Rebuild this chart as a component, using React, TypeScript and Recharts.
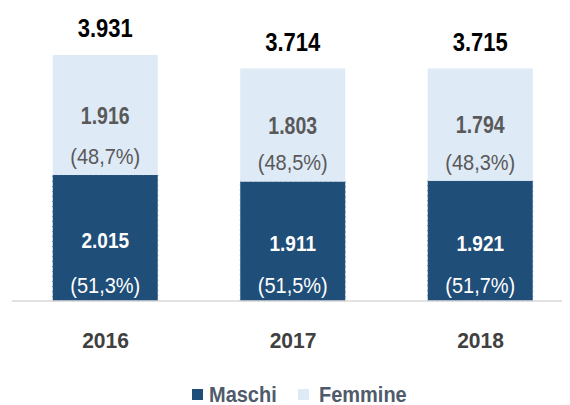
import React from 'react';
import { BarChart, Bar, XAxis, YAxis, LabelList } from 'recharts';

const years = ['2016', '2017', '2018'];
const maschi = [2015, 1911, 1921];
const femmine = [1916, 1803, 1794];
const totals = [3931, 3714, 3715];
const maschiPct = ['(51,3%)', '(51,5%)', '(51,7%)'];
const femminePct = ['(48,7%)', '(48,5%)', '(48,3%)'];

const data = years.map((y, i) => ({
  year: y,
  maschi: maschi[i],
  femmine: femmine[i],
  total: totals[i],
}));

const DARK = '#1F4E79';
const LIGHT = '#DEEAF6';
const FONT = "'Liberation Sans', Arial, sans-serif";

const fmt = (v: number) => `${Math.floor(v / 1000)}.${String(v % 1000).padStart(3, '0')}`;

const SText = ({ x, y, sy = 1, children, ...rest }: any) => (
  <text transform={`translate(${x},${y}) scale(1,${sy})`} x={0} y={0} textAnchor="middle" dominantBaseline="central" fontFamily={FONT} {...rest}>
    {children}
  </text>
);

const MaschiLabel = (props: any) => {
  const { x, y, width, height, index } = props;
  const cx = x + width / 2;
  return (
    <g>
      <SText x={cx} y={y + height / 2 + 2} sy={1.18} fontSize={19} fontWeight="bold" fill="#ffffff">{fmt(maschi[index])}</SText>
      <SText x={cx} y={y + height - 16} sy={1.08} fontSize={20} fill="#ffffff">{maschiPct[index]}</SText>
    </g>
  );
};

const FemmineLabel = (props: any) => {
  const { x, y, width, height, index } = props;
  const cx = x + width / 2;
  return (
    <g>
      <SText x={cx} y={y + height / 2 + 1} sy={1.18} fontSize={19.5} fontWeight="bold" fill="#595959">{fmt(femmine[index])}</SText>
      <SText x={cx} y={y + height - 19} sy={1.08} fontSize={20} fill="#595959">{femminePct[index]}</SText>
      <SText x={cx} y={y - 27} sy={1.2} fontSize={22} fontWeight="bold" fill="#000000">{fmt(totals[index])}</SText>
    </g>
  );
};

const Tick = (props: any) => {
  const { x, y, payload } = props;
  return (
    <SText x={x} y={y + 32} sy={1.05} fontSize={21} fontWeight="bold" fill="#404040">
      {payload.value}
    </SText>
  );
};

export default function App() {
  return (
    <div style={{ margin: '-8px -8px 0 -8px', width: 570, height: 405, overflow: 'hidden', background: '#fff' }}>
      <BarChart width={580} height={378} data={data} margin={{ top: 50.7, right: 5.75, bottom: 0, left: 11.75 }} barCategoryGap={0}>
        <XAxis dataKey="year" axisLine={{ stroke: '#D9D9D9', strokeWidth: 1.5 }} tickLine={false} tick={<Tick />} height={77} />
        <YAxis hide domain={[0, 4000]} />
        <Bar dataKey="maschi" stackId="a" fill={DARK} barSize={105} isAnimationActive={false} stroke="#4a76a0" strokeDasharray="1 4" strokeWidth={1}>
          <LabelList dataKey="maschi" content={<MaschiLabel />} />
        </Bar>
        <Bar dataKey="femmine" stackId="a" fill={LIGHT} barSize={105} isAnimationActive={false}>
          <LabelList dataKey="femmine" content={<FemmineLabel />} />
        </Bar>
      </BarChart>
      <svg width={570} height={27} style={{ display: 'block' }}>
        <g fontFamily={FONT} fontSize={20} fontWeight="bold" fill="#4F5B6B">
          <rect x={192} y={11} width={11} height={11} fill={DARK} />
          <text transform="translate(209,16.5) scale(1,1.08)" dominantBaseline="central">Maschi</text>
          <rect x={298} y={11} width={11} height={11} fill={LIGHT} />
          <text transform="translate(319,16.5) scale(1,1.08)" dominantBaseline="central">Femmine</text>
        </g>
      </svg>
    </div>
  );
}
